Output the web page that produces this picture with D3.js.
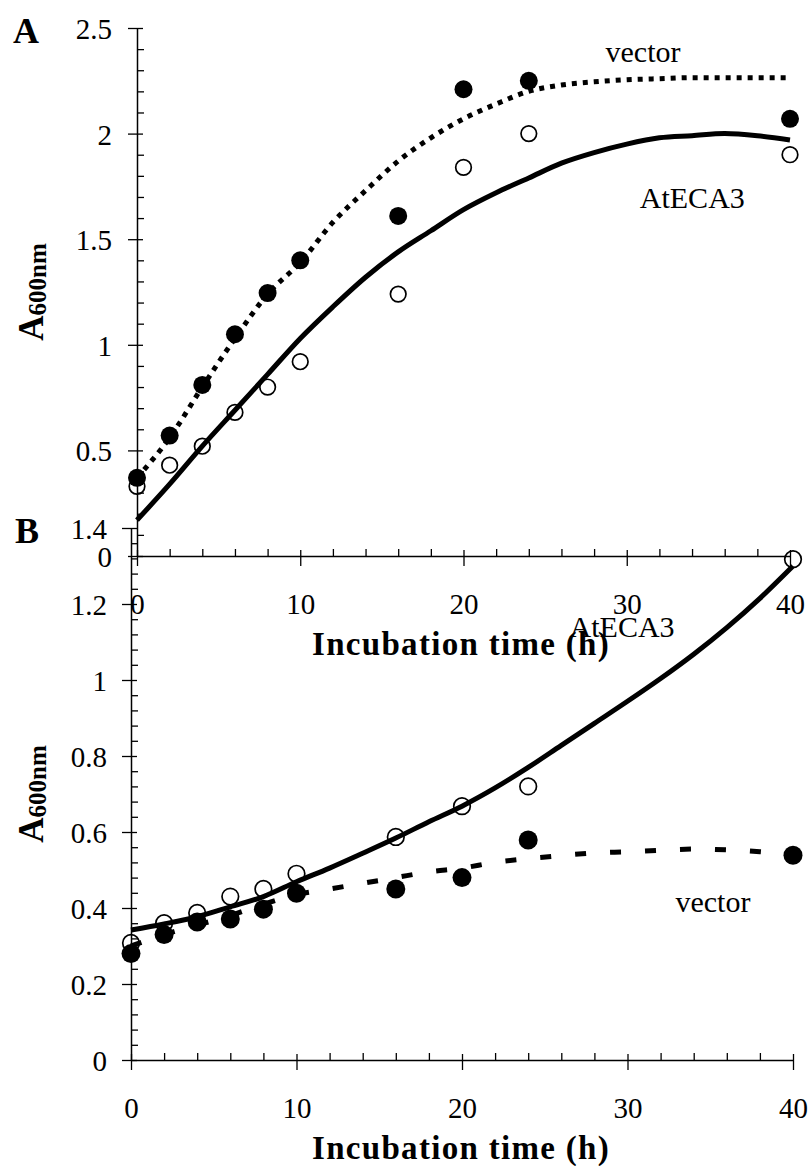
<!DOCTYPE html>
<html>
<head>
<meta charset="utf-8">
<script src="https://cdn.jsdelivr.net/npm/d3@7"></script>
<style>
  body { margin: 0; background: #fff; }
  text { font-family: "Liberation Serif", "Times New Roman", serif; fill: #000; }
</style>
</head>
<body>
<div id="chart"></div>
<script>
// sampling times (h)
const times = [0, 2, 4, 6, 8, 10, 16, 20, 24, 40];
const fitTimes = [0, 2, 4, 6, 8, 10, 12, 14, 16, 18, 20, 22, 24, 26, 28, 30, 32, 34, 36, 38, 40];

// panel A
const aVector = [0.37, 0.57, 0.81, 1.05, 1.245, 1.40, 1.61, 2.21, 2.25, 2.07];
const aAtECA3 = [0.33, 0.43, 0.52, 0.68, 0.80, 0.92, 1.24, 1.84, 2.00, 1.90];
const aVectorFit = [0.37, 0.56, 0.80, 1.03, 1.24, 1.39, 1.58, 1.73, 1.87, 1.98, 2.07, 2.14, 2.20, 2.23, 2.245, 2.255, 2.26, 2.265, 2.265, 2.265, 2.265];
const aAtECA3Fit = [0.17, 0.34, 0.52, 0.69, 0.86, 1.03, 1.18, 1.32, 1.44, 1.54, 1.64, 1.72, 1.79, 1.86, 1.91, 1.95, 1.98, 1.99, 2.00, 1.99, 1.97];

// panel B
const bVector = [0.28, 0.33, 0.363, 0.371, 0.397, 0.439, 0.45, 0.48, 0.579, 0.539];
const bAtECA3 = [0.308, 0.36, 0.387, 0.43, 0.45, 0.49, 0.587, 0.668, 0.72, 1.318];
const bVectorFit = [0.30, 0.33, 0.355, 0.38, 0.41, 0.435, 0.45, 0.465, 0.48, 0.495, 0.505, 0.52, 0.53, 0.538, 0.545, 0.548, 0.552, 0.555, 0.553, 0.548, 0.54];
const bAtECA3Fit = [0.342, 0.358, 0.377, 0.403, 0.43, 0.469, 0.505, 0.544, 0.584, 0.627, 0.668, 0.716, 0.77, 0.828, 0.886, 0.944, 1.004, 1.068, 1.138, 1.215, 1.30];

// ticks
const xTicks = [0, 10, 20, 30, 40];
const xMinor = d3.range(2, 40, 2).filter(d => d % 10 !== 0);
const aYTicks = [0, 0.5, 1, 1.5, 2, 2.5];
const aYMinor = d3.range(0.1, 2.5, 0.1).filter(d => Math.abs(d * 2 - Math.round(d * 2)) > 1e-6);
const bYTicks = [0, 0.2, 0.4, 0.6, 0.8, 1, 1.2, 1.4];
const bYMinor = d3.range(0.04, 1.4, 0.04).filter(d => Math.abs(d * 5 - Math.round(d * 5)) > 1e-6);

const W = 811, H = 1166;
const svg = d3.select('#chart').append('svg')
    .attr('width', W)
    .attr('height', H);

const fmt = d => String(+d.toFixed(2));

function drawPanel(p) {
    const x = d3.scaleLinear().domain([0, 40]).range(p.xRange);
    const y = d3.scaleLinear().domain([0, p.yMax]).range(p.yRange);
    const g = svg.append('g');
    const x0 = p.xRange[0], y0 = p.yRange[0];

    // y axis, major ticks cross the axis line
    const ya = g.append('g')
        .attr('transform', `translate(${x0},0)`)
        .call(d3.axisLeft(y).tickValues(p.yTicks).tickSize(9).tickSizeOuter(0).tickFormat(fmt));
    ya.selectAll('.tick line').attr('x1', 6).attr('stroke-width', 1.3);
    ya.select('.domain').attr('stroke-width', 1.5);
    ya.selectAll('.tick text')
        .attr('x', -p.yLabelGap)
        .attr('dy', '0.36em')
        .style('font-family', '"Liberation Serif", "Times New Roman", serif')
        .style('font-size', '29px');
    g.append('g')
        .attr('transform', `translate(${x0},0)`)
        .call(d3.axisRight(y).tickValues(p.yMinor).tickSize(7).tickFormat(''))
        .call(s => s.select('.domain').remove())
        .selectAll('.tick line').attr('stroke-width', 1.3);

    // x axis
    const xa = g.append('g')
        .attr('transform', `translate(0,${y0})`)
        .call(d3.axisBottom(x).tickValues(xTicks).tickSize(10).tickSizeOuter(0));
    xa.selectAll('.tick line').attr('y1', -6).attr('stroke-width', 1.3);
    xa.select('.domain').attr('stroke-width', 1.5);
    xa.selectAll('.tick text')
        .attr('y', 58)
        .attr('dy', 0)
        .style('font-family', '"Liberation Serif", "Times New Roman", serif')
        .style('font-size', '29px');
    g.append('g')
        .attr('transform', `translate(0,${y0})`)
        .call(d3.axisTop(x).tickValues(xMinor).tickSize(7).tickFormat(''))
        .call(s => s.select('.domain').remove())
        .selectAll('.tick line').attr('stroke-width', 1.3);

    // x title
    g.append('text')
        .attr('x', 461)
        .attr('y', y0 + 99)
        .attr('text-anchor', 'middle')
        .style('font-size', '33px')
        .style('font-weight', 'bold')
        .style('letter-spacing', '1.3px')
        .text('Incubation time (h)');

    // y title A600nm
    const yc = (p.yRange[0] + p.yRange[1]) / 2;
    const yt = g.append('text')
        .attr('transform', `translate(43,${yc}) rotate(-90)`)
        .attr('text-anchor', 'middle')
        .style('font-weight', 'bold');
    yt.append('tspan').style('font-size', '35px').text('A');
    yt.append('tspan').style('font-size', '25px').attr('dy', 3).text('600nm');

    // panel letter
    g.append('text')
        .attr('x', p.letterPos[0])
        .attr('y', p.letterPos[1])
        .style('font-size', '36px')
        .style('font-weight', 'bold')
        .text(p.letter);

    const line = d3.line()
        .x((d, i) => x(fitTimes[i]))
        .y(d => y(d))
        .curve(d3.curveMonotoneX);

    // open circles = AtECA3, filled = vector
    g.selectAll('circle.open')
        .data(p.atData)
        .join('circle')
        .attr('class', 'open')
        .attr('cx', (d, i) => x(times[i]))
        .attr('cy', d => y(d))
        .attr('r', p.rOpen)
        .attr('fill', 'none')
        .attr('stroke', '#000')
        .attr('stroke-width', 1.7);
    g.selectAll('circle.fill')
        .data(p.vecData)
        .join('circle')
        .attr('class', 'fill')
        .attr('cx', (d, i) => x(times[i]))
        .attr('cy', d => y(d))
        .attr('r', p.rFill)
        .attr('fill', '#000');

    g.append('path')
        .datum(p.atFit)
        .attr('d', line)
        .attr('fill', 'none')
        .attr('stroke', '#000')
        .attr('stroke-width', 5);
    g.append('path')
        .datum(p.vecFit)
        .attr('d', line)
        .attr('fill', 'none')
        .attr('stroke', '#000')
        .attr('stroke-width', 5)
        .attr('stroke-dasharray', p.dash);

    // series labels
    p.labels.forEach(l => {
        g.append('text')
            .attr('x', x(l.t))
            .attr('y', y(l.v))
            .style('font-size', '30px')
            .text(l.text);
    });
}

drawPanel({
    xRange: [137, 790], yRange: [556, 28], yMax: 2.5,
    yTicks: aYTicks, yMinor: aYMinor, yLabelGap: 25,
    letter: 'A', letterPos: [13, 43],
    vecData: aVector, atData: aAtECA3, vecFit: aVectorFit, atFit: aAtECA3Fit,
    dash: '5,6', rFill: 9, rOpen: 7.8,
    labels: [{text: 'vector', t: 28.7, v: 2.34}, {text: 'AtECA3', t: 30.8, v: 1.65}]
});

drawPanel({
    xRange: [131, 793], yRange: [1060, 528], yMax: 1.4,
    yTicks: bYTicks, yMinor: bYMinor, yLabelGap: 24,
    letter: 'B', letterPos: [15, 543],
    vecData: bVector, atData: bAtECA3, vecFit: bVectorFit, atFit: bAtECA3Fit,
    dash: '11,24', rFill: 9.5, rOpen: 8.3,
    labels: [{text: 'AtECA3', t: 26.5, v: 1.113}, {text: 'vector', t: 32.9, v: 0.39}]
});
</script>
</body>
</html>
